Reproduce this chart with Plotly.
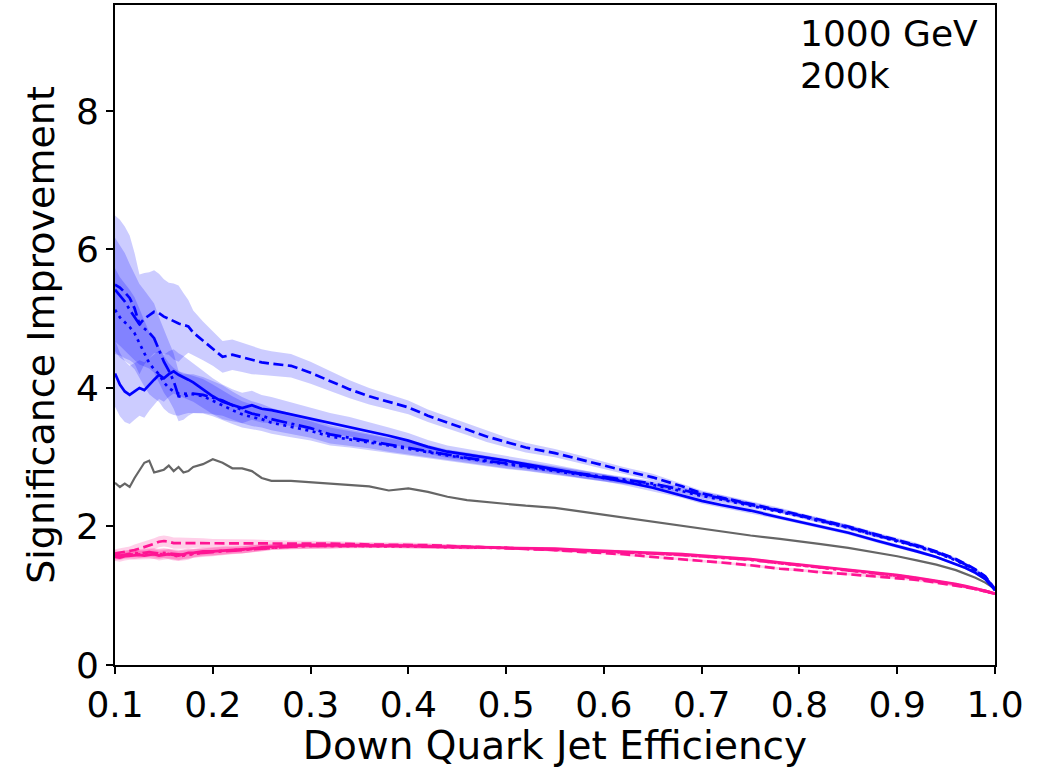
import plotly.graph_objects as go

# ---------------- data ----------------
eff = [0.10, 0.105, 0.11, 0.115, 0.12, 0.125, 0.13, 0.135, 0.14, 0.145,
       0.15, 0.155, 0.16, 0.165, 0.17, 0.175, 0.18, 0.19, 0.20, 0.21,
       0.22, 0.23, 0.24, 0.25, 0.26, 0.28, 0.30, 0.32, 0.34, 0.36,
       0.38, 0.40, 0.42, 0.44, 0.46, 0.48, 0.50, 0.52, 0.55, 0.58,
       0.60, 0.62, 0.65, 0.68, 0.70, 0.72, 0.75, 0.78, 0.80, 0.82,
       0.85, 0.88, 0.90, 0.92, 0.94, 0.96, 0.97, 0.98, 0.99, 1.00]

blue_solid = [4.21, 4.05, 3.95, 3.90, 3.95, 4.00, 3.97, 4.05, 4.12, 4.19,
              4.14, 4.20, 4.24, 4.19, 4.16, 4.12, 4.08, 3.98, 3.88, 3.80,
              3.75, 3.71, 3.75, 3.70, 3.68, 3.62, 3.56, 3.49, 3.44, 3.38,
              3.31, 3.24, 3.15, 3.08, 3.04, 3.00, 2.95, 2.90, 2.83, 2.75,
              2.70, 2.65, 2.56, 2.45, 2.37, 2.31, 2.23, 2.13, 2.07, 2.01,
              1.91, 1.79, 1.72, 1.64, 1.56, 1.46, 1.40, 1.33, 1.24, 1.08]
blue_solid_err = [0.48, 0.46, 0.44, 0.42, 0.41, 0.40, 0.40, 0.38, 0.36, 0.35,
                  0.34, 0.33, 0.32, 0.31, 0.30, 0.29, 0.28, 0.27, 0.26, 0.25,
                  0.23, 0.22, 0.21, 0.20, 0.19, 0.17, 0.16, 0.15, 0.14, 0.13,
                  0.12, 0.11, 0.10, 0.09, 0.08, 0.08, 0.07, 0.07, 0.06, 0.06,
                  0.05, 0.05, 0.05, 0.04, 0.04, 0.04, 0.04, 0.03, 0.03, 0.03,
                  0.03, 0.03, 0.03, 0.03, 0.02, 0.02, 0.02, 0.02, 0.02, 0.02]

blue_dashed = [5.49, 5.45, 5.38, 5.30, 5.15, 4.92, 5.00, 5.05, 5.10, 5.08,
               5.03, 5.00, 4.96, 4.93, 4.91, 4.89, 4.80, 4.68, 4.57, 4.45,
               4.48, 4.44, 4.40, 4.37, 4.35, 4.32, 4.22, 4.10, 3.98, 3.88,
               3.80, 3.72, 3.60, 3.50, 3.40, 3.30, 3.22, 3.14, 3.06, 2.95,
               2.88, 2.81, 2.71, 2.58, 2.48, 2.42, 2.33, 2.24, 2.17, 2.10,
               2.00, 1.88, 1.81, 1.73, 1.64, 1.53, 1.46, 1.38, 1.28, 1.10]
blue_dashed_err = [1.00, 0.98, 0.95, 0.90, 0.80, 0.72, 0.66, 0.62, 0.60, 0.57,
                   0.54, 0.52, 0.55, 0.55, 0.46, 0.38, 0.32, 0.28, 0.25, 0.23,
                   0.22, 0.21, 0.20, 0.19, 0.18, 0.17, 0.16, 0.14, 0.13, 0.12,
                   0.11, 0.10, 0.09, 0.09, 0.08, 0.08, 0.07, 0.07, 0.06, 0.06,
                   0.05, 0.05, 0.05, 0.04, 0.04, 0.04, 0.04, 0.03, 0.03, 0.03,
                   0.03, 0.03, 0.03, 0.03, 0.02, 0.02, 0.02, 0.02, 0.02, 0.02]

blue_dashdot = [5.42, 5.33, 5.25, 5.13, 5.02, 4.92, 4.86, 4.80, 4.72, 4.55,
                4.38, 4.25, 4.10, 3.88, 3.87, 3.90, 3.92, 3.90, 3.86, 3.82,
                3.75, 3.68, 3.63, 3.60, 3.55, 3.48, 3.42, 3.33, 3.28, 3.24,
                3.18, 3.14, 3.08, 3.03, 2.99, 2.95, 2.91, 2.87, 2.81, 2.75,
                2.71, 2.67, 2.62, 2.53, 2.46, 2.41, 2.32, 2.23, 2.16, 2.09,
                1.99, 1.87, 1.80, 1.72, 1.63, 1.52, 1.45, 1.37, 1.27, 1.09]
blue_dashdot_err = [0.75, 0.72, 0.70, 0.66, 0.62, 0.58, 0.55, 0.52, 0.50, 0.47,
                    0.45, 0.42, 0.40, 0.36, 0.33, 0.30, 0.28, 0.26, 0.24, 0.22,
                    0.20, 0.19, 0.18, 0.17, 0.16, 0.15, 0.14, 0.13, 0.12, 0.11,
                    0.10, 0.10, 0.09, 0.08, 0.08, 0.07, 0.07, 0.06, 0.06, 0.05,
                    0.05, 0.05, 0.04, 0.04, 0.04, 0.04, 0.03, 0.03, 0.03, 0.03,
                    0.03, 0.03, 0.02, 0.02, 0.02, 0.02, 0.02, 0.02, 0.02, 0.02]

blue_dotted = [5.13, 5.02, 4.95, 4.88, 4.79, 4.65, 4.50, 4.36, 4.27, 4.20,
               4.08, 4.00, 3.95, 3.92, 3.92, 3.92, 3.91, 3.88, 3.82, 3.75,
               3.68, 3.62, 3.58, 3.55, 3.50, 3.44, 3.38, 3.30, 3.26, 3.22,
               3.17, 3.12, 3.07, 3.02, 2.98, 2.94, 2.90, 2.86, 2.80, 2.74,
               2.70, 2.66, 2.60, 2.51, 2.44, 2.39, 2.30, 2.22, 2.15, 2.08,
               1.98, 1.86, 1.79, 1.71, 1.62, 1.51, 1.44, 1.36, 1.26, 1.08]
blue_dotted_err = [0.60, 0.58, 0.56, 0.54, 0.52, 0.50, 0.48, 0.45, 0.42, 0.40,
                   0.38, 0.36, 0.34, 0.32, 0.30, 0.28, 0.27, 0.25, 0.23, 0.21,
                   0.20, 0.19, 0.18, 0.17, 0.16, 0.15, 0.14, 0.13, 0.12, 0.11,
                   0.10, 0.10, 0.09, 0.08, 0.08, 0.07, 0.07, 0.06, 0.06, 0.05,
                   0.05, 0.05, 0.04, 0.04, 0.04, 0.04, 0.03, 0.03, 0.03, 0.03,
                   0.03, 0.03, 0.02, 0.02, 0.02, 0.02, 0.02, 0.02, 0.02, 0.02]

pink_solid = [1.56, 1.55, 1.57, 1.58, 1.58, 1.59, 1.58, 1.59, 1.60, 1.58,
              1.59, 1.60, 1.59, 1.58, 1.60, 1.62, 1.62, 1.64, 1.64, 1.65,
              1.66, 1.66, 1.68, 1.70, 1.71, 1.72, 1.73, 1.73, 1.73, 1.72,
              1.72, 1.72, 1.71, 1.71, 1.70, 1.70, 1.69, 1.69, 1.68, 1.66,
              1.65, 1.64, 1.62, 1.60, 1.58, 1.56, 1.53, 1.48, 1.45, 1.42,
              1.38, 1.33, 1.30, 1.26, 1.22, 1.17, 1.14, 1.11, 1.07, 1.03]
pink_dashed = [1.61, 1.62, 1.63, 1.64, 1.66, 1.68, 1.70, 1.72, 1.75, 1.78,
               1.79, 1.78, 1.76, 1.76, 1.76, 1.76, 1.76, 1.76, 1.76, 1.76,
               1.76, 1.76, 1.76, 1.76, 1.76, 1.76, 1.76, 1.75, 1.75, 1.74,
               1.74, 1.74, 1.73, 1.72, 1.71, 1.70, 1.69, 1.68, 1.66, 1.63,
               1.62, 1.60, 1.56, 1.53, 1.50, 1.48, 1.44, 1.39, 1.37, 1.34,
               1.31, 1.28, 1.26, 1.23, 1.19, 1.15, 1.12, 1.10, 1.07, 1.03]
pink_dashdot = [1.60, 1.58, 1.59, 1.61, 1.62, 1.61, 1.62, 1.63, 1.62, 1.61,
                1.62, 1.61, 1.60, 1.59, 1.59, 1.60, 1.61, 1.62, 1.63, 1.64,
                1.65, 1.66, 1.67, 1.69, 1.70, 1.71, 1.72, 1.72, 1.73, 1.72,
                1.72, 1.72, 1.71, 1.71, 1.70, 1.70, 1.69, 1.68, 1.67, 1.65,
                1.64, 1.63, 1.61, 1.59, 1.57, 1.55, 1.52, 1.47, 1.44, 1.41,
                1.37, 1.32, 1.29, 1.25, 1.21, 1.16, 1.13, 1.10, 1.07, 1.03]
pink_dotted = [1.57, 1.58, 1.60, 1.60, 1.59, 1.60, 1.61, 1.61, 1.60, 1.60,
               1.61, 1.60, 1.58, 1.57, 1.58, 1.59, 1.61, 1.63, 1.64, 1.65,
               1.66, 1.67, 1.68, 1.69, 1.70, 1.71, 1.72, 1.72, 1.72, 1.72,
               1.72, 1.71, 1.71, 1.70, 1.70, 1.69, 1.69, 1.68, 1.67, 1.65,
               1.64, 1.63, 1.61, 1.59, 1.57, 1.55, 1.52, 1.47, 1.44, 1.41,
               1.37, 1.32, 1.29, 1.25, 1.21, 1.16, 1.13, 1.10, 1.07, 1.03]
pink_err = [0.06, 0.06, 0.06, 0.06, 0.06, 0.06, 0.06, 0.06, 0.07, 0.07,
            0.07, 0.07, 0.07, 0.07, 0.07, 0.07, 0.06, 0.06, 0.06, 0.06,
            0.05, 0.05, 0.05, 0.05, 0.04, 0.04, 0.04, 0.04, 0.03, 0.03,
            0.03, 0.03, 0.03, 0.03, 0.03, 0.02, 0.02, 0.02, 0.02, 0.02,
            0.02, 0.02, 0.02, 0.02, 0.02, 0.02, 0.02, 0.02, 0.02, 0.02,
            0.02, 0.02, 0.02, 0.02, 0.02, 0.02, 0.02, 0.02, 0.02, 0.02]
pink_dashed_err = [0.06, 0.06, 0.07, 0.07, 0.08, 0.08, 0.08, 0.08, 0.08, 0.08,
                   0.08, 0.08, 0.08, 0.08, 0.08, 0.07, 0.07, 0.07, 0.06, 0.06,
                   0.05, 0.05, 0.05, 0.05, 0.04, 0.04, 0.04, 0.04, 0.03, 0.03,
                   0.03, 0.03, 0.03, 0.03, 0.03, 0.02, 0.02, 0.02, 0.02, 0.02,
                   0.02, 0.02, 0.02, 0.02, 0.02, 0.02, 0.02, 0.02, 0.02, 0.02,
                   0.02, 0.02, 0.02, 0.02, 0.02, 0.02, 0.02, 0.02, 0.02, 0.02]

gray_base = [2.63, 2.57, 2.62, 2.57, 2.70, 2.82, 2.92, 2.95, 2.78, 2.80,
             2.82, 2.88, 2.80, 2.86, 2.78, 2.80, 2.86, 2.90, 2.97, 2.92,
             2.84, 2.84, 2.80, 2.70, 2.66, 2.66, 2.64, 2.62, 2.60, 2.58,
             2.52, 2.55, 2.50, 2.43, 2.38, 2.35, 2.33, 2.30, 2.27, 2.21,
             2.17, 2.13, 2.07, 2.00, 1.96, 1.92, 1.87, 1.82, 1.79, 1.75,
             1.69, 1.62, 1.57, 1.51, 1.45, 1.37, 1.32, 1.26, 1.19, 1.10]

x_ticks = [0.1, 0.2, 0.3, 0.4, 0.5, 0.6, 0.7, 0.8, 0.9, 1.0]
y_ticks = [0, 2, 4, 6, 8]
annot_lines = ["1000 GeV", "200k"]

BLUE = "#0000FF"
PINK = "#FF1493"
GRAY = "#666666"
BLUE_FILL = "rgba(0,0,255,0.2)"
PINK_FILL = "rgba(255,20,147,0.2)"

DASH = "10px,4.5px"
DASHDOT = "16px,4.5px,3px,4.5px"
DOT = "3px,4.5px"

fig = go.Figure()


def band(y, err, color):
    upper = [v + e for v, e in zip(y, err)]
    lower = [v - e for v, e in zip(y, err)]
    fig.add_trace(go.Scatter(
        x=eff + eff[::-1], y=upper + lower[::-1], fill="toself",
        fillcolor=color, line=dict(width=0), mode="lines",
        hoverinfo="skip", showlegend=False))


def line(y, color, dash, width=2.7):
    fig.add_trace(go.Scatter(
        x=eff, y=y, mode="lines", showlegend=False,
        line=dict(color=color, width=width, dash=dash)))


# bands
band(blue_solid, blue_solid_err, BLUE_FILL)
band(blue_dashed, blue_dashed_err, BLUE_FILL)
band(blue_dashdot, blue_dashdot_err, BLUE_FILL)
band(blue_dotted, blue_dotted_err, BLUE_FILL)
band(pink_solid, pink_err, PINK_FILL)
band(pink_dashed, pink_dashed_err, PINK_FILL)
band(pink_dashdot, pink_err, PINK_FILL)
band(pink_dotted, pink_err, PINK_FILL)

# lines
line(gray_base, GRAY, "solid", 2.2)
line(pink_dotted, PINK, DOT)
line(pink_dashdot, PINK, DASHDOT)
line(pink_dashed, PINK, DASH)
line(pink_solid, PINK, "solid")
line(blue_dotted, BLUE, DOT)
line(blue_dashdot, BLUE, DASHDOT)
line(blue_dashed, BLUE, DASH)
line(blue_solid, BLUE, "solid")

FONT = "DejaVu Sans"
axis_common = dict(
    showline=True, linecolor="black", linewidth=1.6, mirror=True,
    showgrid=False, zeroline=False, ticks="outside", ticklen=7,
    tickwidth=1.6, tickcolor="black",
    tickfont=dict(family=FONT, size=36, color="black"),
)

fig.update_layout(
    width=1053, height=768,
    margin=dict(l=115, r=58, t=5, b=103, autoexpand=False),
    paper_bgcolor="white", plot_bgcolor="white",
    xaxis=dict(range=[0.1, 1.0], tickvals=x_ticks,
               ticktext=[f"{v:.1f}" for v in x_ticks],
               title=dict(text="Down Quark Jet Efficiency",
                          font=dict(family=FONT, size=39, color="black"),
                          standoff=12),
               **axis_common),
    yaxis=dict(range=[0, 9.53], tickvals=y_ticks,
               ticktext=[str(v) for v in y_ticks],
               title=dict(text="Significance Improvement",
                          font=dict(family=FONT, size=38, color="black"),
                          standoff=10),
               **axis_common),
)

for i, (txt, yp) in enumerate(zip(annot_lines, [0.957, 0.893])):
    fig.add_annotation(text=txt, xref="paper", yref="paper", x=0.776, y=yp,
                       xanchor="left", yanchor="middle", showarrow=False,
                       font=dict(family=FONT, size=36, color="black"))

fig.write_html("out.html")
